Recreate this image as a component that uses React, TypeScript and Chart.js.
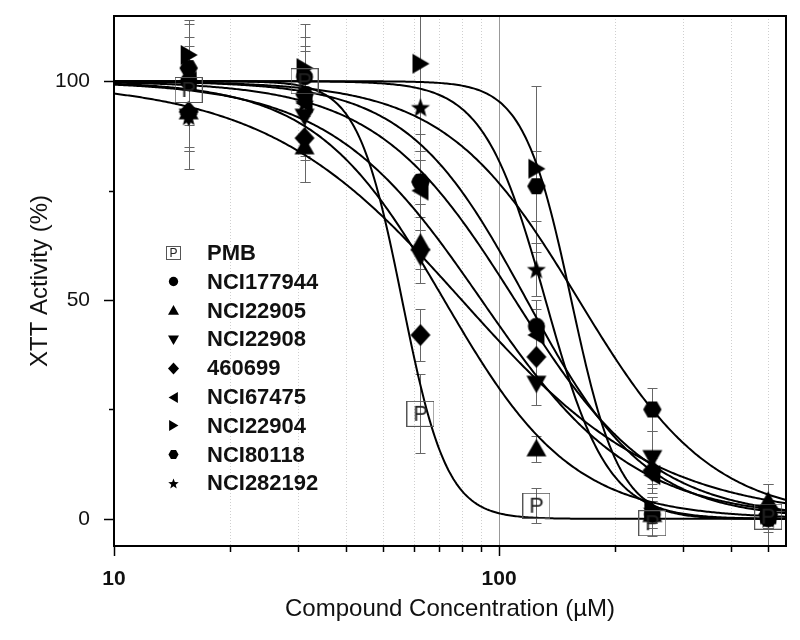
import React, { useEffect, useRef } from 'react';
import { Chart, registerables } from 'chart.js';
Chart.register(...registerables);

const FONT = "'Liberation Sans', Arial, sans-serif";

// ---- data ----
const concentrations = [15.625, 31.25, 62.5, 125, 250, 500];
const seriesNames = ['PMB', 'NCI177944', 'NCI22905', 'NCI22908', '460699', 'NCI67475', 'NCI22904', 'NCI80118', 'NCI282192'];
const markerKinds = ['pbox', 'circle', 'up', 'down', 'diamond', 'left', 'right', 'hexagon', 'star'];

const pmbValues = [98, 100, 24, 3, -1, 0.5];
const nci177944Values = [100, 101, 77, 44, 1, 0];
const nci22905Values = [93, 85, 63, 16, 1, 4];
const nci22908Values = [92, 92, 60, 31, 14, 1];
const s460699Values = [93, 87, 42, 37, 11, 1];
const nci67475Values = [100, 95, 75, 42, 10, 1];
const nci22904Values = [106, 103, 104, 80, 2, 1];
const nci80118Values = [103, 97, 77, 76, 25, 1];
const nci282192Values = [92, 95, 94, 57, 2, 0];

const pmbErrors = [5, 3, 9, 4, 3, 2];
const nci177944Errors = [8, 9, 5, 6, 3, 2];
const nci22905Errors = [8, 8, 6, 3, 3, 4];
const nci22908Errors = [8, 9, 6, 5, 6, 3];
const s460699Errors = [9, 10, 6, 5, 4, 3];
const nci67475Errors = [10, 8, 9, 6, 4, 3];
const nci22904Errors = [8, 10, 16, 19, 3, 3];
const nci80118Errors = [10, 10, 5, 8, 5, 7];
const nci282192Errors = [12, 13, 10, 6, 3, 3];

// dose-response fit parameters
const fitIC50 = [56, 118, 72, 90, 80, 110, 154, 161, 132];
const fitHill = [7.5, 2.8, 2.6, 2.2, 1.7, 2.4, 7, 2.5, 5.4];
const fitTop = 100;
const fitBottom = 0;

const xTickValues = [10, 20, 30, 40, 50, 60, 70, 80, 90, 100, 200, 300, 400, 500];
const xLabeled = [10, 100];
const yTickValues = [0, 25, 50, 75, 100];
const yLabeled = [0, 50, 100];

const seriesValues = [pmbValues, nci177944Values, nci22905Values, nci22908Values, s460699Values, nci67475Values, nci22904Values, nci80118Values, nci282192Values];
const seriesErrors = [pmbErrors, nci177944Errors, nci22905Errors, nci22908Errors, s460699Errors, nci67475Errors, nci22904Errors, nci80118Errors, nci282192Errors];

function makeMarker(kind: string, s: number, pFont: number): HTMLCanvasElement {
  const c = document.createElement('canvas');
  if (kind === 'pbox') {
    const w = Math.round(s * 1.4);
    const h = Math.round(s * 1.3);
    c.width = w; c.height = h;
    const ctx = c.getContext('2d')!;
    ctx.strokeStyle = '#555';
    ctx.lineWidth = 1;
    ctx.strokeRect(0.5, 0.5, w - 1, h - 1);
    ctx.fillStyle = '#222';
    ctx.font = `${pFont}px ${FONT}`;
    ctx.textAlign = 'center';
    ctx.textBaseline = 'middle';
    ctx.fillText('P', w / 2, h / 2 + 1);
    return c;
  }
  const w = s + 4;
  c.width = w; c.height = w;
  const ctx = c.getContext('2d')!;
  const cx = w / 2, cy = w / 2, r = s / 2;
  ctx.fillStyle = '#000';
  ctx.beginPath();
  switch (kind) {
    case 'circle':
      ctx.arc(cx, cy, r * 0.85, 0, Math.PI * 2);
      break;
    case 'up':
      ctx.moveTo(cx, cy - r); ctx.lineTo(cx + r, cy + r * 0.75); ctx.lineTo(cx - r, cy + r * 0.75);
      break;
    case 'down':
      ctx.moveTo(cx, cy + r); ctx.lineTo(cx + r, cy - r * 0.75); ctx.lineTo(cx - r, cy - r * 0.75);
      break;
    case 'left':
      ctx.moveTo(cx - r * 0.9, cy); ctx.lineTo(cx + r * 0.8, cy - r); ctx.lineTo(cx + r * 0.8, cy + r);
      break;
    case 'right':
      ctx.moveTo(cx + r * 0.9, cy); ctx.lineTo(cx - r * 0.8, cy - r); ctx.lineTo(cx - r * 0.8, cy + r);
      break;
    case 'diamond':
      ctx.moveTo(cx, cy - r * 1.1); ctx.lineTo(cx + r * 1.0, cy); ctx.lineTo(cx, cy + r * 1.1); ctx.lineTo(cx - r * 1.0, cy);
      break;
    case 'hexagon':
      for (let k = 0; k < 6; k++) {
        const a = (Math.PI / 3) * k;
        const px = cx + r * 0.92 * Math.cos(a), py = cy + r * 0.92 * Math.sin(a);
        if (k === 0) ctx.moveTo(px, py); else ctx.lineTo(px, py);
      }
      break;
    case 'star':
      for (let k = 0; k < 10; k++) {
        const a = -Math.PI / 2 + (Math.PI / 5) * k;
        const rr = k % 2 === 0 ? r : r * 0.42;
        const px = cx + rr * Math.cos(a), py = cy + rr * Math.sin(a) + r * 0.08;
        if (k === 0) ctx.moveTo(px, py); else ctx.lineTo(px, py);
      }
      break;
  }
  ctx.closePath();
  ctx.fill();
  return c;
}

export default function App() {
  const ref = useRef<HTMLCanvasElement>(null);
  useEffect(() => {
    const canvas = ref.current!;
    const dataMarkers = markerKinds.map((k) => makeMarker(k, 20, 22));
    const legendMarkers = markerKinds.map((k) => makeMarker(k, 11, 12));

    const xMin = 10, xMax = 556;
    const curveX: number[] = [];
    for (let k = 0; k <= 400; k++) curveX.push(Math.pow(10, Math.log10(xMin) + (Math.log10(xMax) - Math.log10(xMin)) * k / 400));

    const pointSets = seriesNames.map((name, i) => ({
      label: name,
      data: concentrations.map((c, j) => ({ x: c, y: seriesValues[i][j] })),
      pointStyle: dataMarkers[i] as any,
      pointRadius: 10,
      showLine: false,
      order: 0,
    }));
    const curveSets = seriesNames.map((name, i) => ({
      label: name + ' fit',
      data: curveX.map((x) => ({ x, y: fitBottom + (fitTop - fitBottom) / (1 + Math.pow(x / fitIC50[i], fitHill[i])) })),
      showLine: true,
      pointRadius: 0,
      borderColor: '#000',
      borderWidth: 2,
      order: 1,
    }));

    const decor = {
      id: 'decor',
      beforeDraw(chart: any) {
        const { ctx, chartArea: a, scales } = chart;
        ctx.save();
        ctx.fillStyle = '#fff';
        ctx.fillRect(0, 0, chart.width, chart.height);
        for (const v of xTickValues) {
          if (v === 10) continue;
          const px = Math.round(scales.x.getPixelForValue(v)) + 0.5;
          ctx.beginPath();
          if (v === 100) { ctx.strokeStyle = '#999'; ctx.setLineDash([]); }
          else { ctx.strokeStyle = '#cfcfcf'; ctx.setLineDash([1, 2]); }
          ctx.lineWidth = 1;
          ctx.moveTo(px, a.top); ctx.lineTo(px, a.bottom);
          ctx.stroke();
        }
        ctx.restore();
      },
      beforeDatasetsDraw(chart: any) {
        const { ctx, chartArea: a, scales } = chart;
        ctx.save();
        ctx.beginPath();
        ctx.rect(a.left, a.top, a.right - a.left, a.bottom - a.top);
        ctx.clip();
        ctx.strokeStyle = '#666';
        ctx.lineWidth = 1;
        seriesValues.forEach((vals, i) => {
          vals.forEach((v, j) => {
            const e = seriesErrors[i][j];
            const px = Math.round(scales.x.getPixelForValue(concentrations[j])) + 0.5;
            const y1 = Math.round(scales.y.getPixelForValue(v + e)) + 0.5;
            const y2 = Math.round(scales.y.getPixelForValue(v - e)) + 0.5;
            ctx.beginPath();
            ctx.moveTo(px, y1); ctx.lineTo(px, y2);
            ctx.moveTo(px - 5, y1); ctx.lineTo(px + 5, y1);
            ctx.moveTo(px - 5, y2); ctx.lineTo(px + 5, y2);
            ctx.stroke();
          });
        });
        ctx.restore();
      },
      afterDraw(chart: any) {
        const { ctx, chartArea: a, scales } = chart;
        ctx.save();
        ctx.strokeStyle = '#000';
        ctx.lineWidth = 2;
        ctx.strokeRect(a.left, a.top, a.right - a.left, a.bottom - a.top);
        ctx.lineWidth = 1.5;
        for (const v of xTickValues) {
          const px = Math.round(scales.x.getPixelForValue(v)) + 0.5;
          const len = xLabeled.includes(v) ? 10 : 6;
          ctx.beginPath(); ctx.moveTo(px, a.bottom); ctx.lineTo(px, a.bottom + len); ctx.stroke();
        }
        for (const v of yTickValues) {
          const py = Math.round(scales.y.getPixelForValue(v)) + 0.5;
          const len = yLabeled.includes(v) ? 10 : 5;
          ctx.beginPath(); ctx.moveTo(a.left, py); ctx.lineTo(a.left - len, py); ctx.stroke();
        }
        // legend
        const lx = 173, tx = 207, ly0 = 253, step = 28.8;
        ctx.fillStyle = '#111';
        ctx.font = `bold 22px ${FONT}`;
        ctx.textBaseline = 'middle';
        ctx.textAlign = 'left';
        seriesNames.forEach((name, i) => {
          const y = ly0 + i * step;
          const m = legendMarkers[i];
          ctx.drawImage(m, Math.round(lx - m.width / 2), Math.round(y - m.height / 2));
          ctx.fillText(name, tx, y + 1);
        });
        ctx.restore();
      },
    };

    const chart = new Chart(canvas, {
      type: 'scatter',
      data: { datasets: [...pointSets, ...curveSets] as any },
      options: {
        responsive: false,
        animation: false,
        layout: { padding: { top: 16, right: 14, left: 0, bottom: 0 } },
        plugins: { legend: { display: false }, tooltip: { enabled: false } },
        scales: {
          x: {
            type: 'logarithmic',
            min: xMin,
            max: xMax,
            position: 'bottom',
            afterBuildTicks: (s: any) => { s.ticks = xTickValues.map((v) => ({ value: v, major: xLabeled.includes(v) })); },
            afterFit: (s: any) => { s.height = 94; s.paddingLeft = 0; s.paddingRight = 0; },
            grid: { display: false },
            border: { display: false },
            ticks: {
              autoSkip: false, maxRotation: 0, minRotation: 0, padding: 13, color: '#111',
              font: { family: FONT, size: 21, weight: 'bold' },
              callback: (v: any) => (xLabeled.includes(Number(v)) ? String(v) : ''),
            },
            title: { display: true, text: 'Compound Concentration (µM)', color: '#111', font: { family: FONT, size: 24 }, padding: { top: 0, bottom: 16 } },
          },
          y: {
            type: 'linear',
            min: -6.2,
            max: 114.9,
            afterBuildTicks: (s: any) => { s.ticks = yTickValues.map((v) => ({ value: v })); },
            afterFit: (s: any) => { s.width = 114; s.paddingTop = 0; s.paddingBottom = 0; },
            grid: { display: false },
            border: { display: false },
            ticks: {
              autoSkip: false, padding: 16, color: '#111',
              font: { family: FONT, size: 21 },
              callback: (v: any) => (yLabeled.includes(Number(v)) ? String(v) : ''),
            },
            title: { display: true, text: 'XTT Activity (%)', color: '#111', font: { family: FONT, size: 24 }, padding: { top: 26, bottom: 0 } },
          },
        },
      } as any,
      plugins: [decor],
    });
    return () => chart.destroy();
  }, []);
  return (
    <div style={{ position: 'absolute', left: 0, top: 0, width: 800, height: 640, background: '#fff' }}>
      <canvas ref={ref} width={800} height={640} style={{ display: 'block' }} />
    </div>
  );
}
